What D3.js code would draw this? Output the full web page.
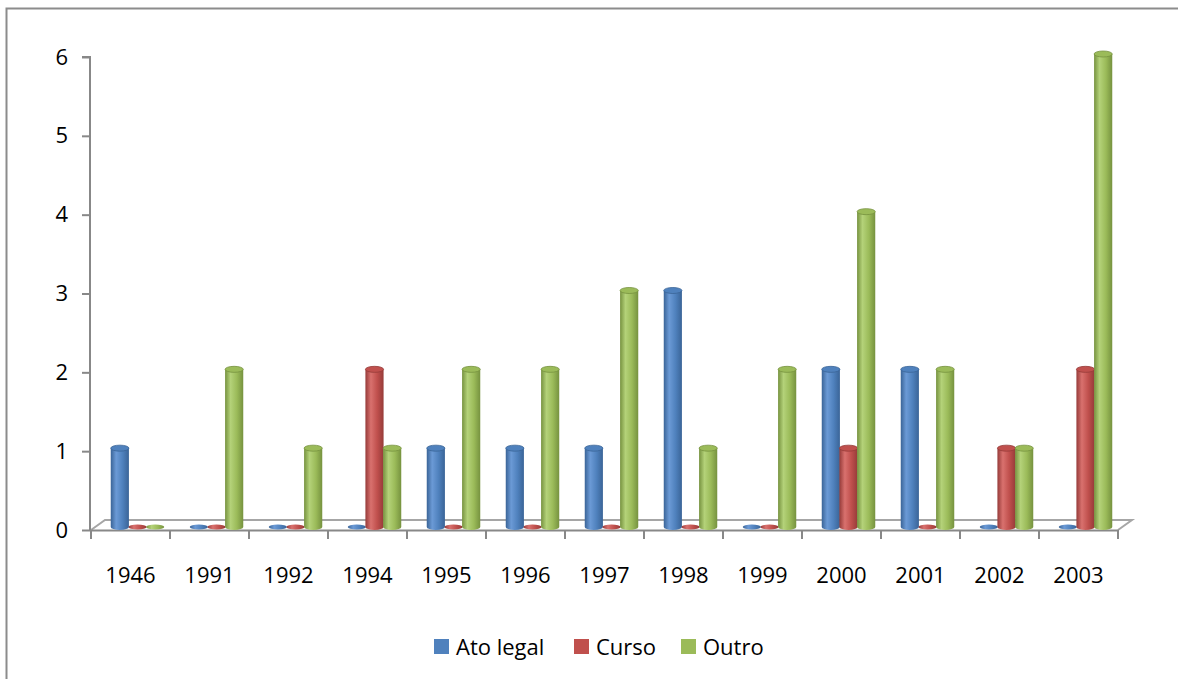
<!DOCTYPE html>
<html>
<head>
<meta charset="utf-8">
<script src="https://cdn.jsdelivr.net/npm/d3@7"></script>
<style>
  body { margin: 0; background: #fff; }
  text { font-family: "Open Sans", sans-serif; fill: #000; }
</style>
</head>
<body>
<svg width="1178" height="679"></svg>
<script>
var years = ["1946","1991","1992","1994","1995","1996","1997","1998","1999","2000","2001","2002","2003"];
var atoLegal = [1,0,0,0,1,1,1,3,0,2,2,0,0];
var curso    = [0,0,0,2,0,0,0,0,0,1,0,1,2];
var outro    = [0,2,1,1,2,2,3,1,2,4,2,1,6];
var seriesNames = ["Ato legal","Curso","Outro"];
var yTicks = [0,1,2,3,4,5,6];

var colors = ["#4F81BD","#C0504D","#9BBB59"];
var darks  = ["#3A6497","#963B39","#76923F"];
var lights = ["#6B9AD6","#D9716E","#B4D279"];

var svg = d3.select("svg");
var values = [atoLegal, curso, outro];

// frame
svg.append("rect")
    .attr("x", 6.5).attr("y", 8.5)
    .attr("width", 1200).attr("height", 700)
    .attr("fill", "none").attr("stroke", "#8c8c8c").attr("stroke-width", 2);

var x = d3.scaleBand().domain(years).range([91, 1118]);
var xs = d3.scaleBand().domain(seriesNames).range([20, 73]);
var y = d3.scaleLinear().domain([0, 6]).range([530, 57]);

var depth = {dx: 14, dy: -10};
var barShift = {dx: 0, dy: -3};

// gradients for cylinders
var defs = svg.append("defs");
colors.forEach(function(c, i) {
  var g = defs.append("linearGradient").attr("id", "cyl" + i)
      .attr("x1", "0").attr("x2", "1").attr("y1", "0").attr("y2", "0");
  g.append("stop").attr("offset", "0%").attr("stop-color", darks[i]);
  g.append("stop").attr("offset", "30%").attr("stop-color", lights[i]);
  g.append("stop").attr("offset", "65%").attr("stop-color", c);
  g.append("stop").attr("offset", "100%").attr("stop-color", darks[i]);
});

var axisColor = "#888";

// floor
var x0 = x.range()[0], x1 = x.range()[1], yb = y(0);
svg.append("path")
    .attr("d", "M" + x0 + "," + yb + "L" + (x0 + depth.dx) + "," + (yb + depth.dy) +
               "L" + (x1 + depth.dx) + "," + (yb + depth.dy) + "L" + x1 + "," + yb)
    .attr("fill", "none").attr("stroke", "#a6a6a6").attr("stroke-width", 2);

// y axis
var yAxis = svg.append("g").attr("transform", "translate(" + 90 + ",0)")
    .call(d3.axisLeft(y).tickValues(yTicks).tickSize(8).tickPadding(14).tickFormat(d3.format("d")));
yAxis.select(".domain").attr("stroke", axisColor).attr("stroke-width", 2).attr("d", "M-8," + y(6) + "H0V" + y(0));
yAxis.selectAll(".tick line").attr("stroke", axisColor).attr("stroke-width", 2);
yAxis.selectAll("text").style("font-size", "22px").attr("font-family", null);

// x axis
var xAxis = svg.append("g").attr("transform", "translate(0," + yb + ")")
    .call(d3.axisBottom(x).tickSize(0).tickPadding(37));
xAxis.select(".domain").attr("stroke", axisColor).attr("stroke-width", 2);
xAxis.selectAll("text").style("font-size", "22px").attr("font-family", null);
var xtickPos = years.map(function(d) { return x(d); }).concat([x1]);
xAxis.selectAll(".xt").data(xtickPos).enter().append("line")
    .attr("x1", function(d) { return d; }).attr("x2", function(d) { return d; })
    .attr("y1", 0).attr("y2", 9)
    .attr("stroke", axisColor).attr("stroke-width", 2);

// bars as cylinders
var bw = xs.bandwidth() + 0.5, ry = 3;
var bars = [];
years.forEach(function(yr, ci) {
  seriesNames.forEach(function(s, si) {
    bars.push({year: yr, series: si, value: values[si][ci]});
  });
});

var bg = svg.append("g");
var cyl = bg.selectAll("g.bar").data(bars).enter().append("g").attr("class", "bar");

cyl.each(function(d) {
  var g = d3.select(this);
  var cx = x(d.year) + xs(seriesNames[d.series]) + xs.bandwidth() / 2 + barShift.dx;
  var base = y(0) + barShift.dy;
  var top = y(d.value) + barShift.dy;
  if (d.value === 0) {
    g.append("ellipse").attr("cx", cx).attr("cy", base).attr("rx", bw / 2).attr("ry", 2.5)
        .attr("fill", "url(#cyl" + d.series + ")");
    return;
  }
  g.append("path")
      .attr("d", "M" + (cx - bw / 2) + "," + top + "V" + base +
                 "A" + (bw / 2) + "," + ry + " 0 0 0 " + (cx + bw / 2) + "," + base +
                 "V" + top + "Z")
      .attr("fill", "url(#cyl" + d.series + ")");
  g.append("ellipse").attr("cx", cx).attr("cy", top).attr("rx", bw / 2).attr("ry", ry)
      .attr("fill", colors[d.series]).attr("stroke", darks[d.series]).attr("stroke-width", 0.8);
});

// legend
var legendX = [434, 574, 681];
var lg = svg.append("g");
seriesNames.forEach(function(s, i) {
  lg.append("rect").attr("x", legendX[i]).attr("y", 639).attr("width", 15).attr("height", 15)
      .attr("fill", colors[i]);
  lg.append("text").attr("x", legendX[i] + 22).attr("y", 655)
      .style("font-size", "22px").text(s);
});
</script>
</body>
</html>
